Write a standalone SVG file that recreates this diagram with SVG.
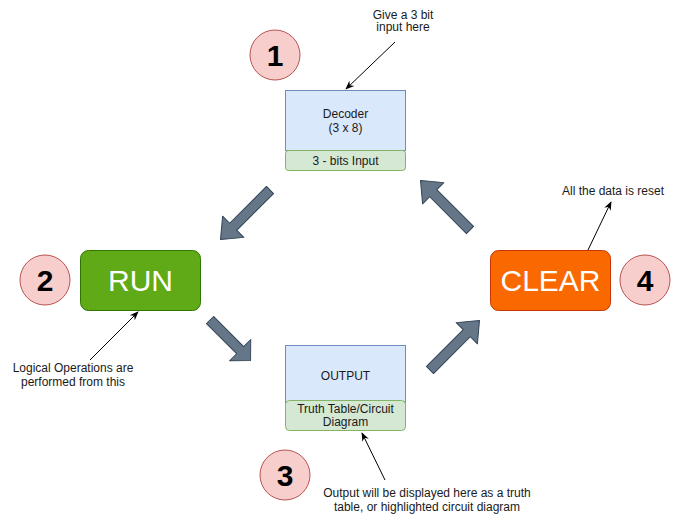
<svg xmlns="http://www.w3.org/2000/svg" width="681" height="515" viewBox="0 0 681 515">
  <defs>
    <marker id="classic" viewBox="0 0 10 10" refX="9" refY="5" markerWidth="9" markerHeight="9" markerUnits="userSpaceOnUse" orient="auto">
      <path d="M0,1 L10,5 L0,9 L3,5 Z" fill="#000"/>
    </marker>
    <!-- block arrow, tail at 0, tip at 70 -->
    <path id="flex" d="M0,-5 L52,-5 L52,-15 L70,0 L52,15 L52,5 L0,5 Z"/>
  </defs>
  <style>
    text { font-family: "Liberation Sans", Arial, sans-serif; }
    .lbl { font-size: 12px; fill: #1a1a1a; text-anchor: middle; }
    .num { font-size: 30px; font-weight: bold; fill: #000; text-anchor: middle; }
    .big { font-size: 30px; fill: #fff; text-anchor: middle; }
    .badge { fill: #f8cecc; stroke: #b85450; stroke-width: 1; }
    .blue { fill: #dae8fc; stroke: #6c8ebf; stroke-width: 1; }
    .green { fill: #d5e8d4; stroke: #82b366; stroke-width: 1; }
    .flow { fill: #647687; stroke: #314354; stroke-width: 1; stroke-linejoin: round; }
    .note { fill: none; stroke: #000; stroke-width: 1; marker-end: url(#classic); }
  </style>
  <rect width="681" height="515" fill="#fff"/>

  <g id="decoder">
    <rect class="blue" x="285.5" y="90.5" width="120" height="60"/>
    <rect class="green" x="285.5" y="150.5" width="120" height="20" rx="3"/>
    <text class="lbl" x="345.5" y="118">Decoder</text>
    <text class="lbl" x="345.5" y="132">(3 x 8)</text>
    <text class="lbl" x="345.5" y="164.5">3 - bits Input</text>
  </g>

  <g id="badge1">
    <circle class="badge" cx="275" cy="55" r="25"/>
    <text class="num" x="275" y="66">1</text>
  </g>

  <g id="run">
    <rect x="80.5" y="250.5" width="120" height="60" rx="8" fill="#60a917" stroke="#2d7600"/>
    <text class="big" x="140.5" y="291">RUN</text>
  </g>

  <g id="badge2">
    <circle class="badge" cx="45" cy="280" r="25"/>
    <text class="num" x="45" y="291">2</text>
  </g>

  <g id="clear">
    <rect x="490.5" y="250.5" width="120" height="60" rx="8" fill="#fa6800" stroke="#c73500"/>
    <text class="big" x="550.5" y="291">CLEAR</text>
  </g>

  <g id="badge4">
    <circle class="badge" cx="645" cy="280" r="25"/>
    <text class="num" x="645" y="291">4</text>
  </g>

  <g id="output">
    <rect class="blue" x="285.5" y="345.5" width="120" height="60"/>
    <rect class="green" x="285.5" y="400.5" width="120" height="30" rx="4"/>
    <text class="lbl" x="345.5" y="379.5">OUTPUT</text>
    <text class="lbl" x="345.5" y="412.5">Truth Table/Circuit</text>
    <text class="lbl" x="345.5" y="426">Diagram</text>
  </g>

  <g id="badge3">
    <circle class="badge" cx="285" cy="475" r="25"/>
    <text class="num" x="285" y="486">3</text>
  </g>

  <g id="note-input">
    <text class="lbl" x="403" y="18.5">Give a 3 bit</text>
    <text class="lbl" x="403" y="31">input here</text>
  </g>
  <g id="note-run">
    <text class="lbl" x="73" y="372">Logical Operations are</text>
    <text class="lbl" x="73" y="386">performed from this</text>
  </g>
  <g id="note-clear">
    <text class="lbl" x="613" y="195">All the data is reset</text>
  </g>
  <g id="note-output">
    <text class="lbl" x="427" y="497">Output will be displayed here as a truth</text>
    <text class="lbl" x="427" y="511">table, or highlighted circuit diagram</text>
  </g>

  <g id="connectors">
    <!-- cycle arrows -->
    <use href="#flex" class="flow" transform="translate(270,190) rotate(135)"/>
    <use href="#flex" class="flow" transform="translate(210,320) rotate(45) scale(0.82,1)"/>
    <use href="#flex" class="flow" transform="translate(430,370) rotate(-45)"/>
    <use href="#flex" class="flow" transform="translate(470,230) rotate(-135)"/>
    <!-- annotation pointers -->
    <line class="note" x1="395" y1="42" x2="346" y2="89"/>
    <line class="note" x1="90" y1="360" x2="138" y2="312"/>
    <line class="note" x1="588" y1="250" x2="611" y2="202"/>
    <line class="note" x1="385" y1="480" x2="362" y2="433"/>
  </g>
</svg>
